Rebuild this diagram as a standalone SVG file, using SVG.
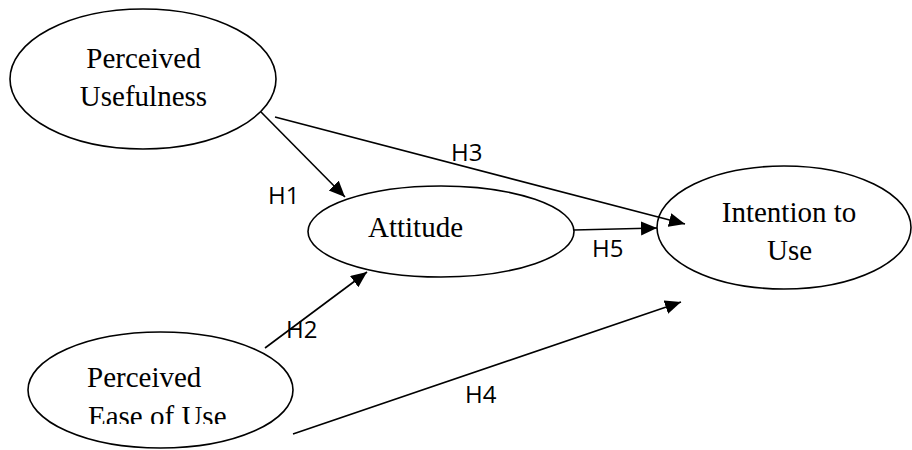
<svg xmlns="http://www.w3.org/2000/svg" width="912" height="450" viewBox="0 0 912 450">
<style>
.node{fill:#fff;stroke:#000;stroke-width:1.6}
.nt{font-family:"Liberation Serif","Times New Roman",serif;font-size:29px;fill:#000}
.edge{stroke:#000;stroke-width:1.6;fill:none;marker-end:url(#ah)}
.lbl{font-family:"Open Sans","DejaVu Sans",sans-serif;font-size:24px;fill:#000}
</style>
<defs>
<marker id="ah" markerUnits="userSpaceOnUse" markerWidth="17" markerHeight="15" refX="16" refY="7" orient="auto">
<path d="M0,0 L16,7 L0,14 z" fill="#000"/>
</marker>
<clipPath id="clipEase"><rect x="0" y="395" width="320" height="29"/></clipPath>
</defs>
<rect width="912" height="450" fill="#fff"/>
<g id="pu">
<ellipse class="node" cx="143" cy="79" rx="133" ry="70"/>
<text class="nt" x="143.5" y="68" text-anchor="middle">Perceived</text>
<text class="nt" x="143.5" y="106" text-anchor="middle">Usefulness</text>
</g>
<g id="att">
<ellipse class="node" cx="441" cy="231.5" rx="133" ry="45.5"/>
<text class="nt" x="415.5" y="237" text-anchor="middle">Attitude</text>
</g>
<g id="itu">
<ellipse class="node" cx="784" cy="227.5" rx="127" ry="61.5"/>
<text class="nt" x="789" y="222" text-anchor="middle">Intention to</text>
<text class="nt" x="789.5" y="260" text-anchor="middle">Use</text>
</g>
<g id="peou">
<ellipse class="node" cx="160.5" cy="390" rx="132.5" ry="58"/>
<text class="nt" x="87" y="387">Perceived</text>
<text class="nt" x="88" y="426" clip-path="url(#clipEase)">Ease of Use</text>
</g>
<g id="edges">
<line class="edge" x1="261" y1="112" x2="345" y2="197"/>
<line class="edge" x1="275" y1="117" x2="685" y2="224"/>
<line class="edge" x1="574" y1="230" x2="657" y2="228"/>
<line class="edge" x1="265" y1="348" x2="367" y2="272"/>
<line class="edge" x1="293" y1="434" x2="681" y2="302"/>
</g>
<g id="labels">
<text class="lbl" x="268" y="204">H1</text>
<text class="lbl" x="286" y="338">H2</text>
<text class="lbl" x="451" y="161">H3</text>
<text class="lbl" x="465" y="403">H4</text>
<text class="lbl" x="592" y="257">H5</text>
</g>
</svg>
